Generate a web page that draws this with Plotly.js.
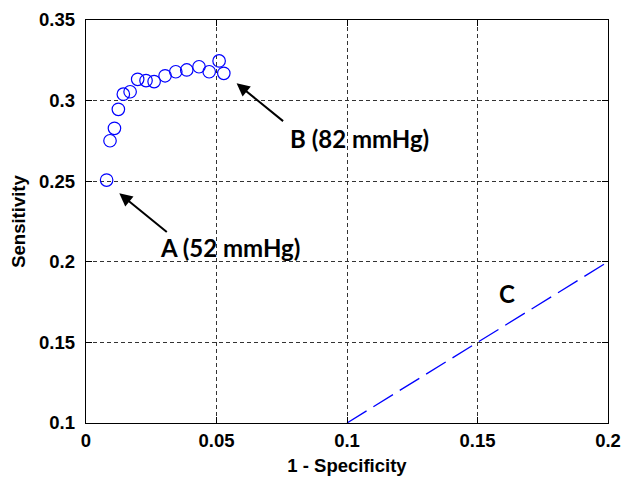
<!DOCTYPE html>
<html>
<head>
<meta charset="utf-8">
<script src="https://cdn.plot.ly/plotly-3.0.1.min.js"></script>
<style>html,body{margin:0;padding:0;background:#fff;}#chart{width:631px;height:480px;}</style>
</head>
<body>
<div id="chart"></div>
<script>
// ROC points (1 - specificity, sensitivity)
var rocX = [0.0079, 0.0092, 0.0109, 0.0124, 0.0143, 0.0169, 0.0198, 0.0230, 0.0261, 0.0303, 0.0344, 0.0386, 0.0433, 0.0472, 0.0510, 0.0528];
var rocY = [0.2507, 0.2751, 0.2828, 0.2946, 0.3040, 0.3055, 0.3132, 0.3124, 0.3118, 0.3154, 0.3179, 0.3190, 0.3210, 0.3179, 0.3246, 0.3169];
// Reference line C
var lineCX = [0.1, 0.2];
var lineCY = [0.1, 0.2];
// Tick labels
var xTickVals = [0, 0.05, 0.1, 0.15, 0.2];
var xTickText = ["0", "0.05", "0.1", "0.15", "0.2"];
var yTickVals = [0.1, 0.15, 0.2, 0.25, 0.3, 0.35];
var yTickText = ["0.1", "0.15", "0.2", "0.25", "0.3", "0.35"];
// Annotation labels
var labelA = "A (52 mmHg)", labelB = "B (82 mmHg)", labelC = "C";

var axisFont = {family: "Liberation Sans, Arial, sans-serif", size: 18.5, color: "#000", weight: "bold"};
var annFont = {family: "Lato, Open Sans, sans-serif", size: 24, color: "#000", weight: "bold"};

var traces = [
  {x: rocX, y: rocY, type: "scatter", mode: "markers",
   marker: {symbol: "circle-open", size: 12.5, color: "#0000ff", line: {width: 1.2, color: "#0000ff"}},
   hoverinfo: "skip"},
  {x: lineCX, y: lineCY, type: "scatter", mode: "lines",
   line: {color: "#0000ff", width: 1.3, dash: "23px,8px"}, hoverinfo: "skip"}
];

var layout = {
  width: 631, height: 480,
  margin: {l: 86, r: 23, t: 20, b: 57},
  paper_bgcolor: "#fff", plot_bgcolor: "#fff",
  showlegend: false,
  xaxis: {range: [0, 0.2], tickvals: xTickVals, ticktext: xTickText,
    showgrid: true, gridcolor: "#333", griddash: "4px,3px", gridwidth: 1,
    zeroline: false, showline: true, linecolor: "#000", linewidth: 1.3, mirror: "ticks",
    ticks: "inside", ticklen: 6, tickcolor: "#000", tickwidth: 1,
    tickfont: axisFont,
    title: {text: "1 - Specificity", font: axisFont, standoff: 9}},
  yaxis: {range: [0.1, 0.35], tickvals: yTickVals, ticktext: yTickText,
    showgrid: true, gridcolor: "#333", griddash: "4px,3px", gridwidth: 1,
    zeroline: false, showline: true, linecolor: "#000", linewidth: 1.3, mirror: "ticks",
    ticks: "inside", ticklen: 6, tickcolor: "#000", tickwidth: 1,
    tickfont: axisFont, ticklabelstandoff: 6,
    title: {text: "Sensitivity", font: axisFont, standoff: 8}},
  annotations: [
    {x: 0.0577, y: 0.3107, xref: "x", yref: "y", text: "", showarrow: true,
     ax: 48, ay: 39, arrowhead: 2, arrowsize: 1.3, arrowwidth: 2, arrowcolor: "#000"},
    {x: 0.01276, y: 0.2425, xref: "x", yref: "y", text: "", showarrow: true,
     ax: 49, ay: 40, arrowhead: 2, arrowsize: 1.3, arrowwidth: 2, arrowcolor: "#000"},
    {x: 0.1046, y: 0.2766, xref: "x", yref: "y", text: labelB, showarrow: false, font: annFont},
    {x: 0.0552, y: 0.209, xref: "x", yref: "y", text: labelA, showarrow: false, font: annFont},
    {x: 0.1612, y: 0.1805, xref: "x", yref: "y", text: labelC, showarrow: false, font: annFont}
  ]
};

Plotly.newPlot("chart", traces, layout, {staticPlot: true, displayModeBar: false});
</script>
</body>
</html>
